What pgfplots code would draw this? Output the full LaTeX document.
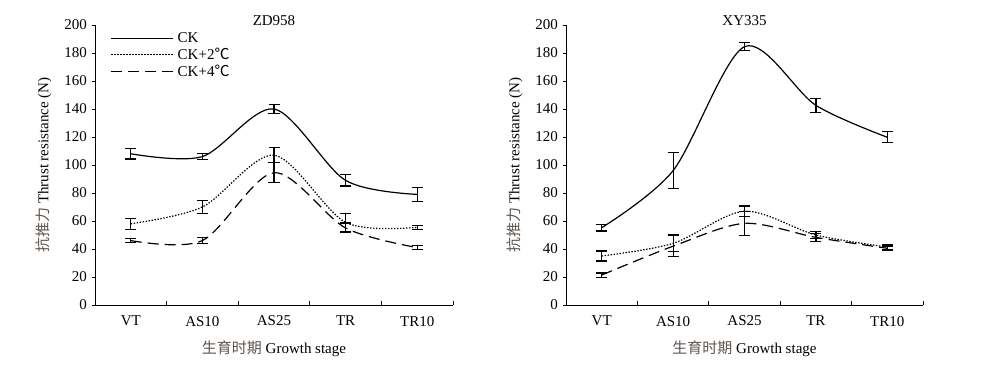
\documentclass[border=0pt]{standalone}
\usepackage{pgfplots}
\usepackage{pgfplotstable}
\pgfplotsset{compat=1.18}
\usepackage{fontspec}
\setmainfont{Liberation Serif}
\newfontfamily\cjk{Noto Sans CJK SC}
\definecolor{cjkcol}{RGB}{95,85,78}

\pgfplotstableread{
x ck eck ktwo ektwo kfour ekfour
1 108 3.7 58 4 46 1.5
2 106 2 70 4.5 46 2
3 140 3 107 5.5 94.5 7
4 89 4 59 6.5 55 3.5
5 79 5 55.5 1.5 41 1.5
}\zd

\pgfplotstableread{
x ck eck ktwo ektwo kfour ekfour
1 55.2 2.4 35 3.6 21.4 1.5
2 96 13 44 6 42 7.5
3 184.5 3 67 3.7 58.3 8.5
4 142.6 5 50 2.5 48.3 3
5 119.8 4 41.4 1.5 40.5 1.5
}\xy

\pgfplotsset{
  myaxis/.style={
    scale only axis, width=358pt, height=280pt, anchor=south west,
    xmin=0.5, xmax=5.5, ymin=0, ymax=200,
    axis x line*=bottom, axis y line*=left,
    xtick={1,2,3,4,5}, xticklabels={VT,AS10,AS25,TR,TR10},
    x tick style={draw=none},
    extra x ticks={1.5,2.5,3.5,4.5,5.5}, extra x tick labels={},
    extra x tick style={tick align=inside, major tick length=4pt, x tick style={draw=black}},
    ytick={0,20,...,200},
    y tick style={black}, tick align=outside, major tick length=3.5pt,
    axis line style={black, line width=0.9pt},
    every tick/.style={black, line width=0.9pt},
    tick label style={font=\fontsize{15}{17}\selectfont},
    /pgf/number format/assume math mode=true,
    yticklabel style={xshift=-1pt},
    xticklabel style={yshift=-4pt},
    title style={at={(0.5,1)}, anchor=base, yshift=-7pt, font=\fontsize{15}{17}\selectfont},
    xlabel={{\cjk\color{cjkcol}生育时期} Growth stage},
    ylabel={{\cjk\color{cjkcol}抗推力} Thrust resistance (N)},
    label style={font=\fontsize{15}{17}\selectfont},
    xlabel style={yshift=-4pt},
    ylabel style={yshift=6pt},
    every axis plot/.append style={line width=1.2pt, black, no markers, smooth},
    error bars/y dir=both, error bars/y explicit,
    error bars/error bar style={solid, line width=1.2pt, black},
    error bars/error mark options={rotate=90, mark size=5.5pt, line width=1.2pt, black},
  },
  dotline/.style={dash pattern=on 1.4pt off 1.6pt},
  dashline/.style={dash pattern=on 11pt off 6pt},
}

\begin{document}
\begin{tikzpicture}
\path[use as bounding box] (0pt,0pt) rectangle (981pt,374pt);
\begin{axis}[myaxis, at={(95pt,69pt)}, title={ZD958},
  legend style={at={(0.04,0.985)}, anchor=north west, draw=none, fill=none,
    font=\fontsize{15}{17}\selectfont, row sep=0pt, inner sep=1pt,
    nodes={inner xsep=4pt}},
  legend cell align=left,
  legend image code/.code={\draw[#1] (0pt,0pt) -- (62pt,0pt);},
]
\addplot[black, solid] table[x=x, y=ck, y error=eck] {\zd};
\addlegendentry{CK}
\addplot[black, dotline] table[x=x, y=ktwo, y error=ektwo] {\zd};
\addlegendentry{CK+2{\cjk ℃}}
\addplot[black, dashline] table[x=x, y=kfour, y error=ekfour] {\zd};
\addlegendentry{CK+4{\cjk ℃}}
\end{axis}
\begin{axis}[myaxis, at={(566pt,69pt)}, width=357pt, title={XY335}]
\addplot[black, solid] table[x=x, y=ck, y error=eck] {\xy};
\addplot[black, dotline] table[x=x, y=ktwo, y error=ektwo] {\xy};
\addplot[black, dashline] table[x=x, y=kfour, y error=ekfour] {\xy};
\end{axis}
\end{tikzpicture}
\end{document}
